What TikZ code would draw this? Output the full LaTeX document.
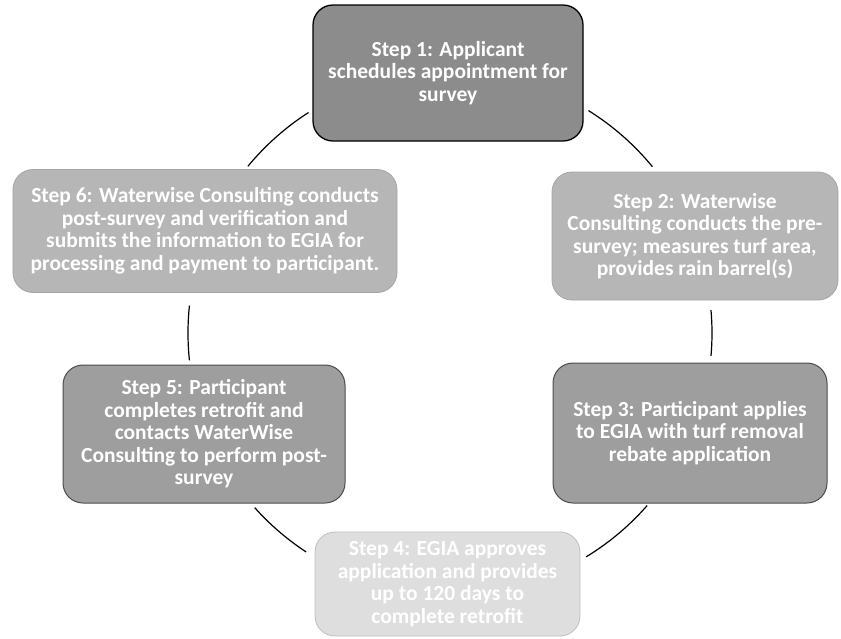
\documentclass[tikz,border=0pt]{standalone}
\usepackage{fontspec}
\setmainfont{Carlito}
\usetikzlibrary{calc}
\definecolor{boxA}{HTML}{8C8C8C}
\definecolor{boxB}{HTML}{B6B6B6}
\definecolor{boxC}{HTML}{9E9E9E}
\definecolor{boxD}{HTML}{DEDEDE}
\tikzset{
  stepbox/.style={rounded corners=20pt, align=center, inner sep=0pt,
    text=white, font=\fontsize{21.5}{22.5}\selectfont\bfseries},
  darkbox/.style={stepbox, fill=boxA, draw=black, line width=1.3pt},
  lightbox/.style={stepbox, fill=boxB, draw=black!35, line width=0.8pt},
  midbox/.style={stepbox, fill=boxC, draw=black!70, line width=1pt},
  palebox/.style={stepbox, fill=boxD, draw=black!25, line width=0.8pt},
  link/.style={draw=black, line width=1.2pt}
}
\begin{document}
\begin{tikzpicture}[x=1pt,y=-1pt]
\useasboundingbox (0,0) rectangle (841,638);
\node[darkbox, minimum width=270pt, minimum height=136pt] (s1) at (448,73)
  {Step 1: Applicant\\schedules appointment for\\survey};
\node[lightbox, minimum width=384pt, minimum height=123pt] (s6) at (205,231)
  {Step 6: Waterwise Consulting conducts\\post-survey and verification and\\submits the information to EGIA for\\processing and payment to participant.};
\node[lightbox, minimum width=286pt, minimum height=128pt] (s2) at (695,236)
  {Step 2: Waterwise\\Consulting conducts the pre-\\survey; measures turf area,\\provides rain barrel(s)};
\node[midbox, minimum width=274pt, minimum height=140pt] (s3) at (690,433)
  {Step 3: Participant applies\\to EGIA with turf removal\\rebate application};
\node[midbox, minimum width=282pt, minimum height=138pt] (s5) at (204,434)
  {Step 5: Participant\\completes retrofit and\\contacts WaterWise\\Consulting to perform post-\\survey};
\node[palebox, minimum width=265pt, minimum height=104pt] (s4) at (447.5,584)
  {Step 4: EGIA approves\\application and provides\\up to 120 days to\\complete retrofit};
\coordinate (c) at (450,333);
\coordinate (a1) at ($(c)+(122.7:262pt)$);
\coordinate (a2) at ($(c)+(58.1:262pt)$);
\coordinate (a3) at ($(c)+(174:262pt)$);
\coordinate (a4) at ($(c)+(5:262pt)$);
\coordinate (a5) at ($(c)+(221.8:262pt)$);
\coordinate (a6) at ($(c)+(-41.2:262pt)$);
\draw[link] (a1) arc[start angle=122.7, end angle=140.5, radius=262pt];
\draw[link] (a2) arc[start angle=58.1, end angle=39.4, radius=262pt];
\draw[link] (a3) arc[start angle=174, end angle=186, radius=262pt];
\draw[link] (a4) arc[start angle=5, end angle=-5, radius=262pt];
\draw[link] (a5) arc[start angle=221.8, end angle=236.7, radius=262pt];
\draw[link] (a6) arc[start angle=-41.2, end angle=-58.7, radius=262pt];
\end{tikzpicture}
\end{document}
